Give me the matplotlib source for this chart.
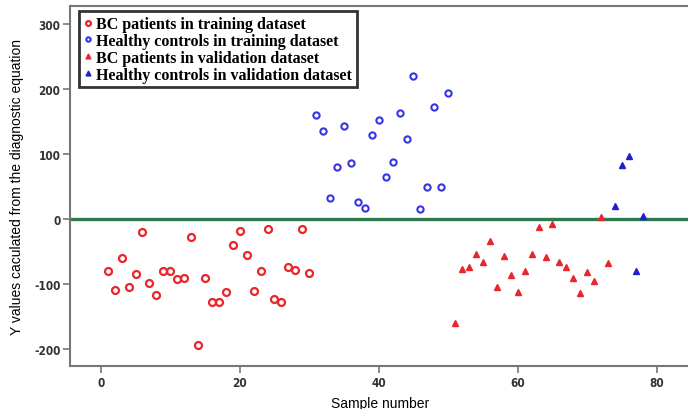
import matplotlib
matplotlib.use("Agg")
import matplotlib.pyplot as plt

plt.rcParams["axes.unicode_minus"] = False

# training set: BC patients (samples 1-30) and healthy controls (31-50)
bc_train_x = list(range(1, 31))
bc_train_y = [-80, -109, -60, -104, -85, -20, -98, -117, -80, -80,
              -92, -91, -27, -193, -91, -128, -128, -112, -40, -19,
              -56, -110, -80, -15, -123, -127, -73, -78, -15, -83]
hc_train_x = list(range(31, 51))
hc_train_y = [160, 135, 33, 80, 144, 86, 27, 17, 130, 152,
              65, 88, 164, 123, 220, 16, 50, 173, 50, 194]

# validation set: BC patients (51-73) and healthy controls (74-78)
bc_valid_x = list(range(51, 74))
bc_valid_y = [-160, -77, -73, -54, -66, -33, -104, -57, -86, -112,
              -80, -53, -12, -58, -7, -66, -74, -91, -113, -81,
              -96, 3, -68]
hc_valid_x = list(range(74, 79))
hc_valid_y = [20, 84, 97, -80, 4]

x_ticks = [0, 20, 40, 60, 80]
y_ticks = [-200, -100, 0, 100, 200, 300]

red = "#e8262b"
blue = "#3535e6"
dark_blue = "#1f1fcc"
green = "#2f7a4c"
axis_gray = "#777777"

fig = plt.figure(figsize=(6.88, 4.10), dpi=100)
ax = fig.add_axes([0.102, 0.105, 0.898, 0.878])

ax.axhline(0, color=green, lw=2.4, zorder=1)

ax.plot(bc_train_x, bc_train_y, "o", ms=5, mfc="none", mec=red, mew=1.6,
        label="BC patients in training dataset", zorder=3)
ax.plot(hc_train_x, hc_train_y, "o", ms=4.5, mfc="none", mec=blue, mew=1.5,
        label="Healthy controls in training dataset", zorder=3)
ax.plot(bc_valid_x, bc_valid_y, "^", ms=5, color=red, mec=red,
        label="BC patients in validation dataset", zorder=3)
ax.plot(hc_valid_x, hc_valid_y, "^", ms=5, color=dark_blue, mec=dark_blue,
        label="Healthy controls in validation dataset", zorder=3)

ax.set_xlim(-4.4, 84.5)
ax.set_ylim(-226, 328)
ax.set_xticks(x_ticks)
ax.set_yticks(y_ticks)

for side in ["left", "bottom", "top"]:
    ax.spines[side].set_color(axis_gray)
    ax.spines[side].set_linewidth(1.5)
ax.spines["right"].set_visible(False)
ax.tick_params(labelcolor="#333333", color=axis_gray, length=5, width=1.2,
               direction="out", pad=2)
for lab in ax.get_xticklabels() + ax.get_yticklabels():
    lab.set_family("DejaVu Sans")
    lab.set_stretch("condensed")
    lab.set_fontsize(8.5)
    lab.set_fontweight("bold")

ax.set_xlabel("Sample number", family=["Liberation Sans", "DejaVu Sans"],
              fontsize=10)
ax.set_ylabel("Y values caculated from the diagnostic equation",
              family=["Liberation Sans", "DejaVu Sans"], fontsize=10)
ax.xaxis.set_label_coords(0.502, -0.083)
ax.yaxis.set_label_coords(-0.075, 0.5)

leg = ax.legend(loc="upper left", bbox_to_anchor=(0.014, 0.985),
                prop={"family": ["Liberation Serif", "DejaVu Serif"],
                      "size": 11.5, "weight": "bold"},
                frameon=True, fancybox=False, handlelength=0.6,
                handletextpad=0.2, borderpad=0.3, labelspacing=0.05,
                markerscale=0.7, borderaxespad=0)
leg.get_frame().set_edgecolor("black")
leg.get_frame().set_linewidth(2)

fig.savefig("out.png", dpi=100)
